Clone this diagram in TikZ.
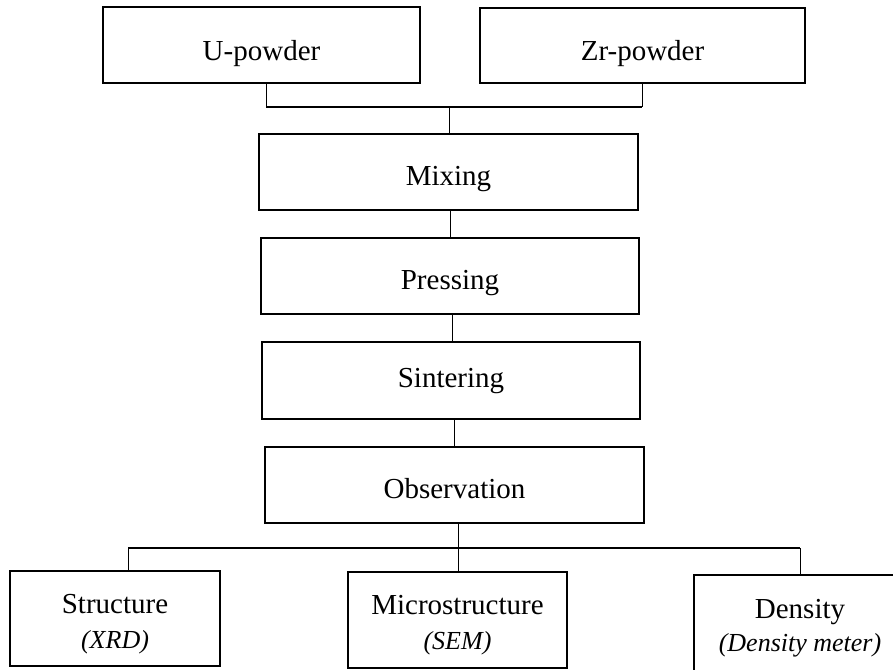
\documentclass[tikz,border=0pt]{standalone}
\usepackage{fontspec}
\setmainfont{Liberation Serif}
\newcommand{\toplift}[1]{\raisebox{0pt}[30pt][0pt]{#1}}
\begin{document}
\begin{tikzpicture}[x=1pt,y=-1pt,
  box/.style={draw=black,line width=1.6pt,fill=white,inner sep=0pt,
    font=\fontsize{29}{33}\selectfont,align=center},
  onel/.style={text height=#1,text depth=0pt},
  conn/.style={draw=black,line width=0.9pt},
  bar/.style={draw=black,line width=1.5pt}]
\useasboundingbox (0,0) rectangle (893,669);
\clip (0,0) rectangle (893,669);
% top boxes
\node[box,onel=30pt,minimum width=317pt,minimum height=76pt] (U) at (261.5,45) {U-powder};
\node[box,onel=30pt,minimum width=325pt,minimum height=75pt] (Zr) at (642.5,45.5) {Zr-powder};
% chain
\node[box,onel=26pt,minimum width=379pt,minimum height=76pt] (Mix) at (448.5,172) {Mixing};
\node[box,onel=26pt,minimum width=378pt,minimum height=76pt] (Press) at (450,276) {Pressing};
\node[box,onel=14pt,minimum width=378pt,minimum height=77pt] (Sint) at (451,380.5) {Sintering};
\node[box,onel=26pt,minimum width=379pt,minimum height=76pt] (Obs) at (454.5,485) {Observation};
% bottom boxes
\node[box,minimum width=210pt,minimum height=95pt] (Struct) at (115,618.5)
  {\toplift{Structure}\\[2pt]{\fontsize{26}{30}\selectfont\itshape (XRD)}};
\node[box,minimum width=219pt,minimum height=96pt] (Micro) at (457.5,620)
  {\toplift{Microstructure}\\[2pt]{\fontsize{26}{30}\selectfont\itshape (SEM)}};
\node[box,minimum width=212pt,minimum height=96pt] (Dens) at (800,623)
  {\toplift{Density}\\[0pt]{\fontsize{26}{30}\selectfont\itshape (Density meter)}};
% junction coordinates
\coordinate (jL) at (266,107);
\coordinate (jR) at (642,107);
\coordinate (jM) at (449,107);
\coordinate (bL) at (128,548);
\coordinate (bM) at (458,548);
\coordinate (bR) at (800,548);
% top merge
\draw[conn] (U.south -| jL) -- (jL);
\draw[conn] (Zr.south -| jR) -- (jR);
\draw[bar] (jL) -- (jR);
\draw[conn] (jM) -- (Mix.north -| jM);
% chain connectors
\draw[conn] (Mix.south -| 450,0) -- (Press.north -| 450,0);
\draw[conn] (Press.south -| 452,0) -- (Sint.north -| 452,0);
\draw[conn] (Sint.south -| 454,0) -- (Obs.north -| 454,0);
% bottom split
\draw[conn] (Obs.south -| bM) -- (Micro.north -| bM);
\draw[conn,line width=1.2pt] (bL) -- (bR);
\draw[conn] (bL) -- (Struct.north -| bL);
\draw[conn] (bR) -- (Dens.north -| bR);
\end{tikzpicture}
\end{document}
